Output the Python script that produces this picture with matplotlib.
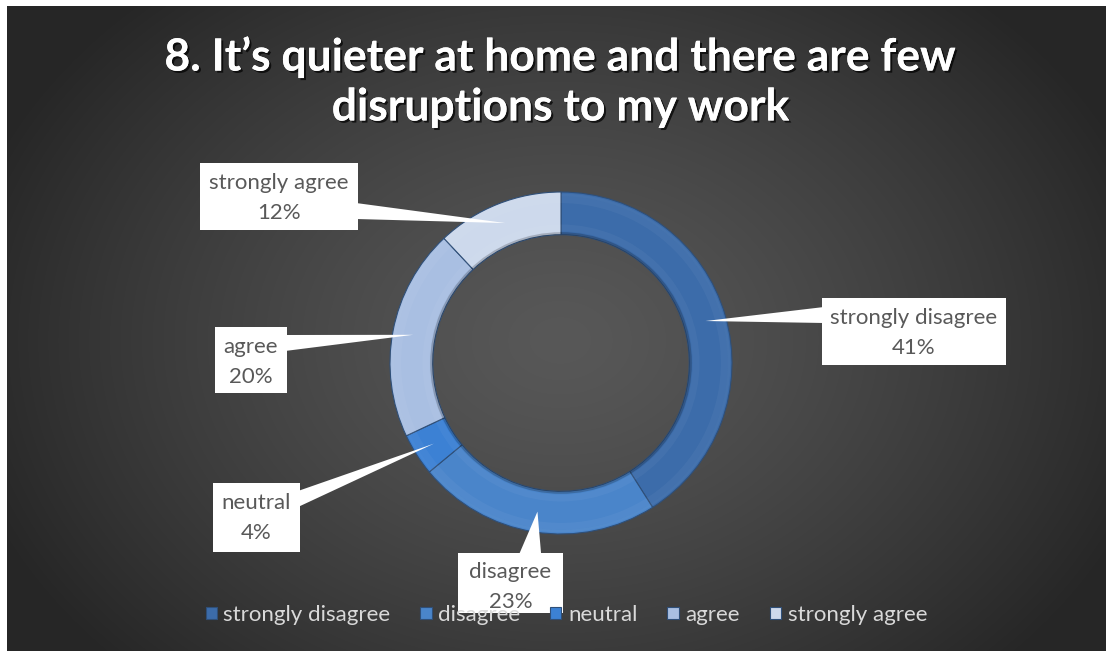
import numpy as np
import matplotlib.pyplot as plt
from matplotlib.patches import Rectangle, Polygon, Wedge
import matplotlib.patheffects as pe

# survey answers, drawn clockwise from 12 o'clock
categories = ["strongly disagree", "disagree", "neutral", "agree", "strongly agree"]
percent = [41, 23, 4, 20, 12]
colors = ["#3c6caa", "#4a85ca", "#3c81d4", "#a9bfe2", "#cdd9ec"]

title = "8. It\u2019s quieter at home and there are few\ndisruptions to my work"

W, H = 1106, 651
fig = plt.figure(figsize=(W / 100, H / 100), dpi=100, facecolor="white")

# dark radial background
bg = fig.add_axes([7 / W, 0, 1 - 7 / W, 1 - 6 / H])
bg.set_axis_off()
yy, xx = np.mgrid[6:H, 7:W]
d = np.sqrt(((xx - 560) / 620.0) ** 2 + ((yy - 340) / 470.0) ** 2)
shade = (88 - 50 * np.clip(d, 0, 1) ** 1.3) / 255.0
bg.imshow(np.dstack([shade] * 3), aspect="auto", interpolation="bilinear")

# donut
cx, cy, R = 561, 363, 171
pax = fig.add_axes([(cx - R) / W, (H - cy - R) / H, 2 * R / W, 2 * R / H])
wedges, _ = pax.pie(percent, colors=colors, startangle=90, counterclock=False,
                    radius=1, wedgeprops=dict(width=0.25, edgecolor="#2f4f78", linewidth=0.8))
# soft bevel: faint light rim, shadow on the inner edge
for r, w, a in [(0.99, 0.015, 0.05), (0.975, 0.04, 0.04), (0.81, 0.04, 0.04)]:
    pax.add_patch(Wedge((0, 0), r, 0, 360, width=w, color="white", alpha=a, lw=0))
pax.add_patch(Wedge((0, 0), 0.765, 0, 360, width=0.015, color="black", alpha=0.2, lw=0))
pax.set_xlim(-1, 1)
pax.set_ylim(-1, 1)
pax.set_aspect("equal")
pax.set_axis_off()

# overlay in pixel units for the callouts
ov = fig.add_axes([0, 0, 1, 1], facecolor="none")
ov.set_xlim(0, W)
ov.set_ylim(H, 0)
ov.set_axis_off()

boxes = {
    "strongly disagree": ((822, 298, 1006, 365), "left", 315),
    "disagree": ((458, 553, 563, 613), "top", 530),
    "neutral": ((213, 483, 300, 552), "right", 499),
    "agree": ((215, 327, 287, 393), "right", 343),
    "strongly agree": ((200, 163, 358, 230), "right", 211),
}

cum = np.cumsum([0] + percent)
for i, name in enumerate(categories):
    mid = np.deg2rad(90 - 3.6 * (cum[i] + percent[i] / 2))
    tx, ty = cx + 0.88 * R * np.cos(mid), cy - 0.88 * R * np.sin(mid)
    (x0, y0, x1, y1), side, c = boxes[name]
    hw = 8
    if side == "left":
        base = [(x0 + 2, c - hw), (x0 + 2, c + hw)]
    elif side == "right":
        base = [(x1 - 2, c - hw), (x1 - 2, c + hw)]
    else:
        base = [(c - hw * 1.4, y0 + 2), (c + hw * 1.4, y0 + 2)]
    ov.add_patch(Polygon(base + [(tx, ty)], closed=True, fc="white", ec="none", zorder=3))
    ov.add_patch(Rectangle((x0, y0), x1 - x0, y1 - y0, fc="white", ec="none", zorder=3))
    top = y0 + 20 if name != "disagree" else y0 + 19
    ov.text((x0 + x1) / 2, top, name, ha="center", va="center",
            fontsize=16, family="Lato", color="#595959", zorder=4)
    ov.text((x0 + x1) / 2, top + 30, f"{percent[i]}%", ha="center", va="center",
            fontsize=16, family="Lato", color="#595959", zorder=4)

fig.text(0.507, 1 - 82 / H, title, ha="center", va="center", fontsize=32,
         family="Lato", weight="bold", color="white", linespacing=1.3,
         path_effects=[pe.withSimplePatchShadow(offset=(1.5, -1.5), shadow_rgbFace="black", alpha=0.7),
                       pe.Normal()])

leg = fig.legend(wedges, categories, loc="center", bbox_to_anchor=(0.512, 1 - 615 / H),
                 ncol=5, frameon=False, handlelength=0.5, handleheight=0.5,
                 handletextpad=0.3, columnspacing=1.35, labelcolor="#d9d9d9",
                 prop=dict(family="Lato", size=16))
leg.set_zorder(10)

fig.savefig("out.png", dpi=100, facecolor=fig.get_facecolor())
